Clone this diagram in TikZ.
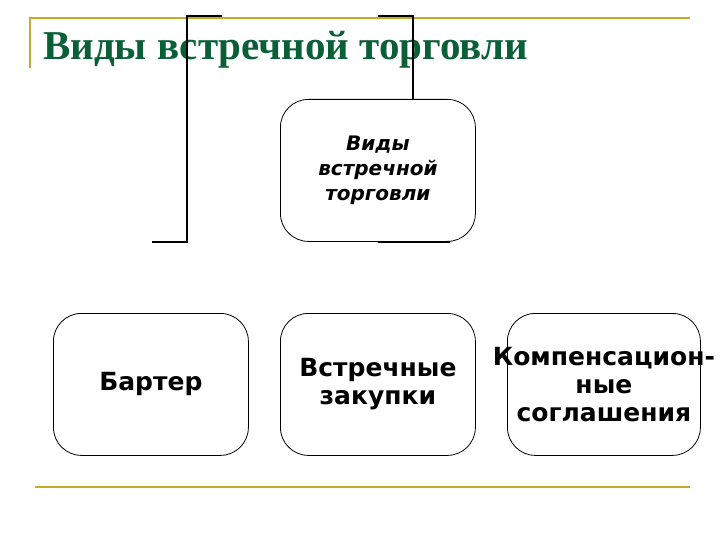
\documentclass[tikz,border=0pt]{standalone}
\usepackage{fontspec}
\setmainfont{Liberation Serif}
\newfontfamily\boxfont{DejaVu Sans}
\definecolor{gold}{RGB}{200,170,40}
\definecolor{ttl}{RGB}{10,95,55}
\begin{document}
\begin{tikzpicture}[x=1pt,y=-1pt,
  rbox/.style={draw,thick,rounded corners=28pt,minimum width=195pt,minimum height=142pt,anchor=north west,inner sep=0pt,align=center},
  bigtxt/.style={font=\boxfont\bfseries\fontsize{25}{28}\selectfont},
  goldl/.style={draw=gold,line width=1.8pt},
  blk/.style={draw=black,line width=1.8pt}]
\useasboundingbox (0,0) rectangle (720,540);
\draw[goldl] (30,68) -- (30,18) -- (690,18);
\draw[goldl] (35,487) -- (690,487);
\node[anchor=base west,text=ttl,font=\bfseries\fontsize{41}{46}\selectfont,inner sep=0pt] (title) at (43,60) {Виды встречной торговли};
\node[rbox,font=\boxfont\bfseries\itshape\fontsize{20}{25}\selectfont] (top) at (280,99) {Виды\\встречной\\торговли};
\node[rbox,bigtxt] (b1) at (53,313) {Бартер};
\node[rbox,bigtxt] (b2) at (280,313) {Встречные\\закупки};
\node[rbox,minimum width=193pt] (b3) at (507,313) {};
\node[bigtxt,align=center,inner sep=0pt] (b3t) at (b3.center) {Компенсацион-\\ные\\соглашения};
\coordinate (t1) at (222,16); \coordinate (t2) at (187,16); \coordinate (t3) at (187,242); \coordinate (t4) at (152,242);
\draw[blk] (t1) -- (t2) -- (t3) -- (t4);
\coordinate (u1) at (378,16); \coordinate (u2) at (413,16);
\draw[blk] (u1) -- (u2) -- (top.north -| u2);
\coordinate (v1) at (378,242); \coordinate (v2) at (450,242);
\draw[blk] (v1) -- (v2);
\end{tikzpicture}
\end{document}
